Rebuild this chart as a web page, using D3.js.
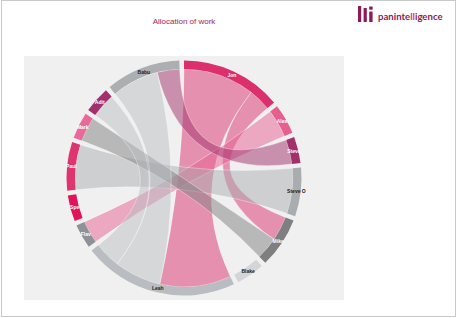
<!DOCTYPE html>
<html>
<head>
<meta charset="utf-8">
<script src="https://cdn.jsdelivr.net/npm/d3@7"></script>
<style>
  html, body { margin: 0; padding: 0; background: #fff; }
  svg { display: block; font-family: "Liberation Sans", Arial, sans-serif; }
</style>
</head>
<body>
<div id="chart"></div>
<script>
// people, in the order they sit round the circle (clockwise from 12 o'clock)
const people = ["Jon", "Alex", "Steve", "Steve O", "Mike", "Blake", "Leah", "Flav", "Spe", "Paul", "Mark", "Adit", "Babu"];
const personColors = ["#dc2f6e", "#e6608f", "#a2306b", "#a9adb0", "#7f7f7f", "#d3d5d7", "#b9bdc1",
                      "#8e9298", "#e1135b", "#de3571", "#e76a9a", "#a3306e", "#abafb2"];

// rows = person, columns = who the work is shared with (diagonal = kept to themselves)
//            Jon Alex Stv StvO Mike Blk Leah Flav Spe Paul Mark Adit Babu
const jon    = [0,  0,   0,  0,   12,  0,  38,  0,   0,  0,   0,   0,   0];
const alex   = [0,  0,   0,  0,   0,   0,  0,   15,  0,  0,   0,   0,   0];
const steve  = [0,  0,   0,  0,   0,   0,  0,   0,   0,  0,   0,   0,   13];
const steveO = [0,  0,   0,  0,   0,   0,  0,   0,   0,  24,  0,   0,   0];
const mike   = [13, 0,   0,  0,   0,   0,  0,   0,   0,  0,   12,  0,   0];
const blake  = [0,  0,   0,  0,   0,   14, 0,   0,   0,  0,   0,   0,   0];
const leah   = [38, 0,   0,  0,   0,   0,  0,   0,   0,  0,   0,   14,  25];
const flav   = [0,  12,  0,  0,   0,   0,  0,   0,   0,  0,   0,   0,   0];
const spe    = [0,  0,   0,  0,   0,   0,  0,   0,   13, 0,   0,   0,   0];
const paul   = [0,  0,   0,  24,  0,   0,  0,   0,   0,  0,   0,   0,   0];
const mark   = [0,  0,   0,  0,   13,  0,  0,   0,   0,  0,   0,   0,   0];
const adit   = [0,  0,   0,  0,   0,   0,  13,  0,   0,  0,   0,   0,   0];
const babu   = [0,  0,   12, 0,   0,   0,  25,  0,   0,  0,   0,   0,   0];

const matrix = [jon, alex, steve, steveO, mike, blake, leah, flav, spe, paul, mark, adit, babu];

const width = 457, height = 318;
const cx = 184, cy = 178;
const innerR = 109, outerR = 117.5;

const svg = d3.select("#chart").append("svg")
  .attr("width", width)
  .attr("height", height);

// frame + plot panel
svg.append("rect")
  .attr("x", 1.5).attr("y", 0.5)
  .attr("width", 454).attr("height", 316)
  .attr("fill", "#fff")
  .attr("stroke", "#c9c9c9");

svg.append("rect")
  .attr("x", 24).attr("y", 56)
  .attr("width", 320).attr("height", 244)
  .attr("fill", "#f0f0f0");

// title
svg.append("text")
  .attr("x", 184).attr("y", 24)
  .attr("text-anchor", "middle")
  .attr("font-size", 8)
  .attr("fill", "#9a2566")
  .text("Allocation of work");

// logo
const logo = svg.append("g").attr("fill", "#8b1c57");
logo.append("rect").attr("x", 358).attr("y", 6).attr("width", 3.2).attr("height", 16);
logo.append("rect").attr("x", 363.6).attr("y", 8).attr("width", 3.2).attr("height", 14);
logo.append("rect").attr("x", 369.2).attr("y", 6.5).attr("width", 3.4).attr("height", 3.2);
logo.append("rect").attr("x", 369.2).attr("y", 11.5).attr("width", 3.4).attr("height", 10.5);
const logoText = logo.append("text")
  .attr("x", 378).attr("y", 19.5)
  .attr("font-family", "Lato, 'Open Sans', sans-serif")
  .attr("font-weight", "bold")
  .attr("font-size", 9.6);
logoText.append("tspan").text("paninte");
logoText.append("tspan").attr("fill", "#e3346f").text("ll");
logoText.append("tspan").text("igence");

// chord layout
const color = d3.scaleOrdinal().domain(people).range(personColors);

const chords = d3.chord()
  .padAngle(0.04)
  .sortSubgroups(d3.descending)(matrix);

const arc = d3.arc().innerRadius(innerR).outerRadius(outerR);
const ribbon = d3.ribbon().radius(innerR);

const g = svg.append("g").attr("transform", `translate(${cx},${cy})`);

// ribbons (self-allocated work is not drawn as a link)
g.append("g")
  .selectAll("path")
  .data(chords.filter(d => d.source.index !== d.target.index))
  .join("path")
  .attr("d", ribbon)
  .attr("fill", d => color(people[Math.min(d.source.index, d.target.index)]))
  .attr("fill-opacity", 0.5)
  .attr("stroke", "#fff")
  .attr("stroke-width", 0.5)
  .attr("stroke-opacity", 0.7);

// group arcs
const groups = g.append("g")
  .selectAll("g")
  .data(chords.groups)
  .join("g");

groups.append("path")
  .attr("d", arc)
  .attr("fill", d => color(people[d.index]));

// light arcs get dark labels, the rest white
const labelR = (innerR + outerR) / 2;
groups.append("text")
  .attr("x", d => labelR * Math.sin((d.startAngle + d.endAngle) / 2))
  .attr("y", d => -labelR * Math.cos((d.startAngle + d.endAngle) / 2))
  .attr("dy", "0.35em")
  .attr("text-anchor", "middle")
  .attr("font-size", 5)
  .attr("font-weight", "bold")
  .attr("fill", d => d3.lab(color(people[d.index])).l > 66 ? "#222" : "#fff")
  .text(d => people[d.index]);
</script>
</body>
</html>
